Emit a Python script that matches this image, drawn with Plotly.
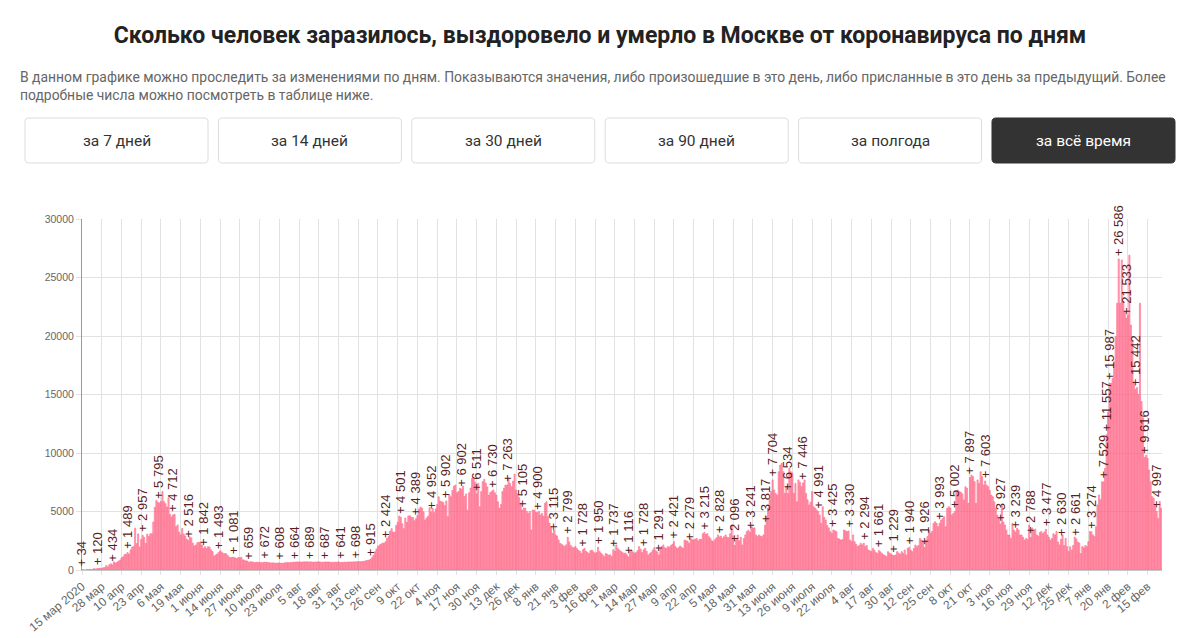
import pandas as pd
import plotly.graph_objects as go

START = "2020-03-15"
MONTHS = ["янв", "фев", "мар", "апр", "мая", "июня", "июля", "авг", "сен", "окт", "ноя", "дек"]
TITLE = "Сколько человек заразилось, выздоровело и умерло в Москве от коронавируса по дням"
SUBTITLE = ("В данном графике можно проследить за изменениями по дням. Показываются значения, либо произошедшие "
            "в это день, либо присланные в это день за предыдущий. Более<br>подробные числа можно посмотреть в таблице ниже.")
BUTTONS = ["за 7 дней", "за 14 дней", "за 30 дней", "за 90 дней", "за полгода", "за всё время"]

# new cases per day, one list per month
mar_2020 = [34, 20, 10, 33, 33, 48, 54, 40, 137, 71, 120, 136, 157, 114, 197, 212, 387]
apr_2020 = [267, 448, 536, 434, 697, 591, 660, 760, 824, 1030, 1124, 1306, 1355, 1489, 1370, 1720, 1959,
            2026, 3570, 2253, 3083, 1959, 2612, 2957, 2780, 2290, 3075, 2871, 3093, 3100]
may_2020 = [4100, 5358, 5948, 5795, 5714, 5858, 6703, 5846, 5667, 5392, 6169, 4748, 4537, 4712, 4750, 3707,
            3855, 3238, 3000, 3545, 3074, 2913, 2638, 2516, 2830, 2738, 2297, 2054, 2140, 2332, 2367]
jun_2020 = [2361, 2138, 1842, 1998, 1855, 1992, 1964, 1730, 1572, 1195, 1282, 1370, 1493, 1651, 1544, 1420,
            1404, 1390, 1250, 1100, 1055, 1101, 1081, 1035, 975, 1070, 1046, 1091, 870, 840]
jul_2020 = [780, 760, 659, 704, 700, 659, 645, 662, 655, 650, 640, 620, 672, 668, 649, 632, 611, 593, 617,
            590, 576, 600, 608, 586, 572, 598, 623, 640, 621, 631, 644]
aug_2020 = [668, 664, 685, 692, 684, 690, 680, 695, 702, 699, 693, 689, 696, 679, 670, 688, 691, 698, 680,
            665, 672, 687, 685, 690, 680, 648, 660, 662, 656, 670, 700]
sep_2020 = [641, 650, 662, 670, 670, 681, 690, 686, 690, 695, 698, 705, 720, 702, 718, 725, 758, 790, 820,
            850, 915, 1050, 1253, 1560, 1792, 2016, 2128, 2218, 2307, 2291]
oct_2020 = [2424, 2704, 2884, 3327, 3537, 3239, 3229, 3814, 4082, 4610, 4501, 3952, 3537, 4444, 4082, 4610,
            4648, 4501, 4492, 4212, 4389, 4651, 5224, 5376, 5285, 4969, 4280, 4446, 4602, 5334, 4952]
nov_2020 = [5261, 4904, 5223, 5595, 6253, 5882, 5828, 5763, 5500, 5902, 4560, 6438, 6253, 6794, 7168, 7260,
            6600, 6700, 6990, 6902, 7168, 6270, 6500, 5100, 6600, 7000, 7830, 7918, 7500, 6511]
dec_2020 = [7400, 5400, 6700, 7550, 7750, 7423, 7100, 6400, 6630, 6730, 6840, 6600, 6400, 5840, 5270, 5600,
            6700, 7000, 7260, 7263, 7830, 7400, 7120, 7600, 8203, 6840, 6500, 6200, 5700, 5105, 5286]
jan_2021 = [5286, 5005, 4840, 5000, 3420, 5130, 5100, 4950, 4900, 4990, 4700, 4850, 4600, 5700, 5840, 4560,
            4000, 3700, 3115, 3420, 3000, 2900, 2560, 2280, 2200, 2100, 2000, 2150, 2799, 2400, 2100]
feb_2021 = [1950, 1900, 2000, 1850, 1700, 1600, 1420, 1728, 1850, 1600, 1500, 1420, 1650, 1700, 1550, 1430,
            1500, 1950, 1570, 1450, 1300, 1140, 1400, 1350, 1250, 1300, 1150, 1737]
mar_2021 = [1600, 2140, 1850, 1710, 1600, 1500, 1420, 1450, 1300, 1116, 1600, 1710, 1550, 1420, 1500, 1650,
            2000, 1780, 1500, 1728, 1850, 1600, 1280, 1400, 1500, 1700, 1900, 1650, 1550, 1291, 1800]
apr_2021 = [2000, 2140, 1900, 1850, 2000, 1950, 2100, 2200, 2421, 2000, 1850, 1900, 2050, 1950, 1850, 2560,
            2500, 2450, 2279, 2700, 2600, 2560, 2650, 2700, 2500, 2650, 2600, 3100, 3215, 3050]
may_2021 = [3100, 2850, 2700, 2500, 2420, 2600, 2750, 3000, 2828, 2900, 2700, 2850, 3000, 2800, 2750, 3100,
            3760, 2900, 2096, 2600, 3000, 2500, 2800, 2140, 2700, 3000, 3280, 3400, 3241, 3700, 3600]
jun_2021 = [3600, 3000, 2850, 3000, 2900, 2850, 3000, 3817, 4590, 5300, 6000, 6700, 7704, 6840, 6550, 6400,
            8400, 8970, 9120, 8400, 6550, 7100, 6534, 8690, 8400, 8300, 6550, 7400, 5840, 7700]
jul_2021 = [7500, 7120, 7446, 7700, 6550, 6000, 5560, 5800, 6700, 5410, 5300, 5130, 4991, 4700, 3990, 5410,
            4500, 4270, 3800, 3600, 3280, 3130, 3425, 3350, 3280, 2700, 2650, 2560, 2600, 3420, 3350]
aug_2021 = [3280, 3330, 2560, 2420, 3000, 2420, 2200, 2000, 2100, 2280, 2150, 2294, 2000, 2100, 1710, 1650,
            1570, 1850, 1700, 1500, 1420, 1661, 1550, 1420, 1300, 1250, 1140, 1570, 1450, 1350, 1280]
sep_2021 = [1229, 1280, 1570, 1450, 1350, 1570, 1420, 1710, 1280, 1850, 1940, 1700, 1570, 1850, 2140, 2000,
            2100, 2700, 2560, 2420, 1926, 2550, 2850, 3420, 3130, 3300, 3990, 4130, 3990, 3700]
oct_2021 = [3993, 4270, 4400, 4560, 3700, 5270, 5410, 5300, 4700, 4840, 5002, 6700, 6840, 6700, 6650, 6500,
            5980, 7120, 7000, 5700, 7897, 8120, 7980, 7550, 5700, 7700, 7400, 8400, 7980, 7260, 7603]
nov_2021 = [7260, 7120, 6800, 6400, 6270, 5840, 5270, 4690, 4410, 3927, 5500, 4100, 3850, 3400, 3000, 2990,
            2700, 3990, 3420, 3239, 3560, 3420, 3000, 2990, 2800, 2560, 2700, 2600, 3850, 2788]
dec_2021 = [3600, 3300, 3500, 3000, 2900, 3200, 3300, 3100, 3250, 3477, 3000, 2800, 2560, 2700, 3100, 3000,
            3300, 2400, 2140, 2630, 3000, 2100, 2700, 2000, 1570, 1990, 1700, 2100, 2810, 2661, 2400]
jan_2022 = [2300, 1400, 2000, 1900, 2100, 2000, 2420, 3280, 3274, 3000, 2850, 3700, 5560, 6410, 6000, 7540,
            7529, 8690, 11557, 13500, 15987, 15950, 16380, 17800, 19940, 22800, 26586, 22800, 26500, 22940, 22080]
feb_2022 = [21533, 21800, 26900, 20940, 19520, 16090, 15442, 15600, 15000, 22800, 14400, 13000, 9616, 9800,
            9540, 8550, 7540, 6270, 6130, 5560, 4997, 4410, 5840, 5270]

cases = (mar_2020 + apr_2020 + may_2020 + jun_2020 + jul_2020 + aug_2020 + sep_2020 + oct_2020 + nov_2020
         + dec_2020 + jan_2021 + feb_2021 + mar_2021 + apr_2021 + may_2021 + jun_2021 + jul_2021 + aug_2021
         + sep_2021 + oct_2021 + nov_2021 + dec_2021 + jan_2022 + feb_2022)
days = pd.date_range(START, periods=len(cases), freq="D")

# day numbers (from 15 March 2020) that carry a "+ N" label
label_days = [0, 10, 20, 30, 40, 50, 60, 70, 80, 90, 100, 110, 120, 130, 140, 150, 160, 170, 180, 190,
              200, 210, 220, 230, 240, 250, 260, 270, 280, 290, 300, 310, 320, 330, 340, 350, 360, 370,
              380, 390, 400, 410, 420, 430, 440, 450, 455, 465, 475, 485, 495, 505, 515, 525, 535, 545,
              555, 565, 575, 585, 595, 605, 615, 625, 635, 645, 655, 665, 673, 675, 677, 683, 688, 694,
              700, 708]

tick_dates = days[::13]
tick_text = [f"{d.day} {MONTHS[d.month - 1]}" for d in tick_dates]
tick_text[0] += " 2020"

# page geometry in screen pixels; the page body adds an 8px margin
OFF = 8
W, H = 1197 - OFF, 638 - OFF
L, R, T, B = 82 - OFF, 35, 219 - OFF, 68
PW, PH = W - L - R, H - T - B


def px(x):
    return (x - OFF - L) / PW


def py(y):
    return (H - B - (y - OFF)) / PH


def rounded(x0, y0, x1, y1, r=4):
    pts = [("M", x0 + r, y0), ("L", x1 - r, y0), ("Q", x1, y0, x1, y0 + r), ("L", x1, y1 - r),
           ("Q", x1, y1, x1 - r, y1), ("L", x0 + r, y1), ("Q", x0, y1, x0, y1 - r), ("L", x0, y0 + r),
           ("Q", x0, y0, x0 + r, y0)]
    out = []
    for p in pts:
        cmd, coords = p[0], p[1:]
        xy = []
        for i in range(0, len(coords), 2):
            xy.append(f"{px(coords[i]):.5f},{py(coords[i + 1]):.5f}")
        out.append(cmd + " " + " ".join(xy))
    return " ".join(out) + " Z"


fig = go.Figure()
fig.add_trace(go.Bar(
    x=days, y=cases,
    marker=dict(color="rgba(255,99,132,0.5)", line=dict(color="rgb(255,99,132)", width=0.6)),
    hovertemplate="%{x|%d.%m.%Y}: %{y}<extra></extra>",
))

annotations = []
for i in label_days:
    annotations.append(dict(
        x=days[i], y=cases[i], xref="x", yref="y",
        text="+ " + f"{cases[i]:,}".replace(",", " "),
        textangle=-90, showarrow=False, xanchor="center", yanchor="bottom", yshift=1,
        font=dict(family="Liberation Sans, Arial", size=13, color="#5a1e1e"),
    ))

annotations.append(dict(
    x=px(18), y=py(67), xref="paper", yref="paper", xanchor="left", yanchor="top", align="left",
    text=SUBTITLE, showarrow=False, font=dict(family="Roboto", size=13.9, color="#666"),
))

shapes = []
for k, name in enumerate(BUTTONS):
    x0 = 25 + k * 193.4
    x1 = x0 + 183
    active = k == len(BUTTONS) - 1
    shapes.append(dict(type="path", xref="paper", yref="paper", path=rounded(x0, 118, x1, 163),
                       fillcolor="#333" if active else "white",
                       line=dict(color="#333" if active else "#dcdcdc", width=1), layer="above"))
    annotations.append(dict(
        x=px((x0 + x1) / 2), y=py(140.5), xref="paper", yref="paper", xanchor="center", yanchor="middle",
        text=name, showarrow=False, font=dict(family="Roboto", size=15.5, color="white" if active else "#333"),
    ))

fig.update_layout(
    width=W, height=H,
    margin=dict(l=L, r=R, t=T, b=B),
    paper_bgcolor="white", plot_bgcolor="white",
    title=dict(text="<b>" + TITLE + "</b>", x=(600 - OFF) / W, xanchor="center", y=1 - (35 - OFF) / H,
               yanchor="middle", yref="container", font=dict(family="Roboto", size=23, color="#222")),
    bargap=0.25,
    showlegend=False,
    annotations=annotations,
    shapes=shapes,
)
fig.update_xaxes(
    type="date", range=[days[0], days[-1] + pd.Timedelta(hours=12)], automargin=False,
    tickvals=tick_dates, ticktext=tick_text, tickangle=-40,
    tickfont=dict(family="Liberation Sans, Arial", size=12, color="#666"),
    showgrid=True, gridcolor="#e2e2e2", gridwidth=1,
    showline=True, linecolor="#c8c8c8", ticks="outside", ticklen=4, tickcolor="#e2e2e2",
)
fig.update_yaxes(
    range=[0, 30000], dtick=5000, tickformat="d", automargin=False,
    tickfont=dict(family="Liberation Sans, Arial", size=10.5, color="#666"),
    showgrid=True, gridcolor="#e2e2e2", gridwidth=1, zeroline=False,
    showline=True, linecolor="#999", ticks="outside", ticklen=5, tickcolor="#e2e2e2",
)

fig.write_html("out.html")
